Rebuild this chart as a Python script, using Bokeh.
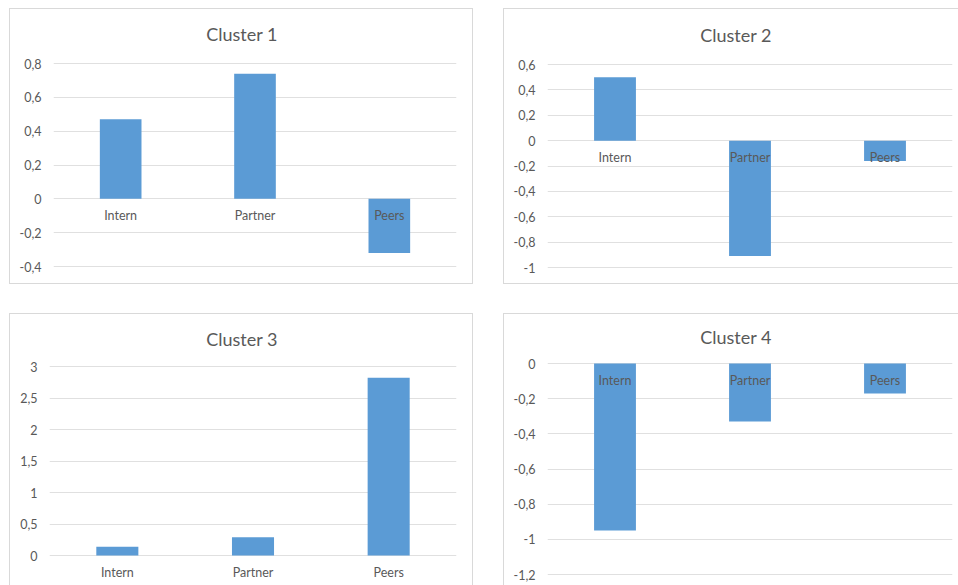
from bokeh.plotting import figure
from bokeh.models import (ColumnDataSource, FactorRange, FixedTicker, CustomJSTickFormatter,
                          LabelSet, Label, Range1d)
from bokeh.layouts import row, column
from bokeh.embed import file_html
from bokeh.resources import INLINE
from bokeh.core.properties import value

categories = ["Intern", "Partner", "Peers"]
cluster_titles = ["Cluster 1", "Cluster 2", "Cluster 3", "Cluster 4"]
cluster1 = [0.47, 0.74, -0.32]
cluster2 = [0.50, -0.91, -0.16]
cluster3 = [0.14, 0.29, 2.82]
cluster4 = [-0.95, -0.33, -0.17]
ticks1 = [-0.4, -0.2, 0, 0.2, 0.4, 0.6, 0.8]
ticks2 = [-1, -0.8, -0.6, -0.4, -0.2, 0, 0.2, 0.4, 0.6]
ticks3 = [0, 0.5, 1, 1.5, 2, 2.5, 3]
ticks4 = [-1.2, -1, -0.8, -0.6, -0.4, -0.2, 0]

FONT = "Lato"
BAR = "#5b9bd5"
TEXT = "#595959"
GRID = "#e0e0e0"
BORDER = "#d9d9d9"


def make_panel(title, values, ticks, width, height, borders, margin, title_dy):
    # borders: pixel space (left, right, top, bottom) between the panel edge and the
    # outermost gridlines; the frame itself spans the full panel height.
    left, right, top, bottom = borders
    lo, hi = ticks[0], ticks[-1]
    upp = (hi - lo) / (height - top - bottom)
    p = figure(x_range=FactorRange(*categories, range_padding=0),
               y_range=Range1d(lo - bottom * upp, hi + top * upp),
               width=width, height=height, output_backend="svg", toolbar_location=None,
               min_border_left=left, min_border_right=right,
               min_border_top=0, min_border_bottom=0,
               outline_line_color=None, background_fill_color="white",
               border_fill_color="white", margin=margin,
               styles={"outline": f"1px solid {BORDER}"})
    src = ColumnDataSource(dict(cat=categories, val=values, zero=[0] * len(values)))
    p.vbar(x="cat", top="val", bottom="zero", width=0.31, source=src,
           fill_color=BAR, line_color=None)
    p.xgrid.visible = False
    p.xaxis.visible = False
    labels = LabelSet(x="cat", y="zero", text="cat", source=src, y_offset=-17,
                      text_align="center", text_baseline="middle",
                      text_font=value(FONT), text_font_size=value("12.5px"),
                      text_color=TEXT)
    p.add_layout(labels)

    tk = FixedTicker(ticks=ticks)
    ax = p.yaxis[0]
    ax.ticker = tk
    ax.formatter = CustomJSTickFormatter(
        code="const v = Math.round(tick*10)/10; return String(v).replace('.', ',');")
    ax.axis_line_color = None
    ax.major_tick_line_color = None
    ax.minor_tick_line_color = None
    ax.major_tick_out = 0
    ax.major_tick_in = 0
    ax.major_label_standoff = 12
    ax.major_label_text_font = FONT
    ax.major_label_text_font_size = "12.5px"
    ax.major_label_text_color = TEXT
    p.ygrid.ticker = tk
    p.ygrid.grid_line_color = GRID
    p.ygrid.grid_line_width = 1

    nominal_w = 463
    t = Label(x=nominal_w / 2 - left, y=height - title_dy,
              x_units="screen", y_units="screen", text=title,
              text_align="center", text_baseline="middle",
              text_font=FONT, text_font_size="18px", text_color=TEXT)
    p.add_layout(t)
    return p


p1 = make_panel(cluster_titles[0], cluster1, ticks1, 462, 274, (43, 16, 54, 17), (9, 0, 0, 10), 24)
p2 = make_panel(cluster_titles[1], cluster2, ticks2, 454, 274, (43, 6, 55, 16), (9, 0, 0, 32), 25)
p3 = make_panel(cluster_titles[2], cluster3, ticks3, 462, 271, (39, 16, 52, 30), (31, 0, 0, 10), 24)
p4 = make_panel(cluster_titles[3], cluster4, ticks4, 454, 271, (43, 6, 49, 11), (31, 0, 0, 32), 22)

layout = column(row(p1, p2), row(p3, p4))

open("out.html", "w").write(file_html(layout, INLINE))
